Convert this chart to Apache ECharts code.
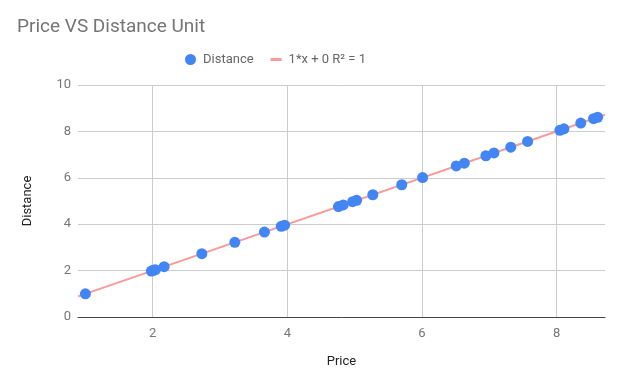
<!DOCTYPE html>
<html>
<head>
<meta charset="utf-8">
<script src="https://cdn.jsdelivr.net/npm/echarts@6/dist/echarts.min.js"></script>
<style>
html,body{margin:0;padding:0;background:#fff;}
#chart{width:624px;height:386px;}
</style>
</head>
<body>
<div id="chart"></div>
<script>
// Data
const priceValues = [1.0, 1.98, 2.01, 2.04, 2.17, 2.73, 3.22, 3.66, 3.91, 3.96, 4.76, 4.83, 4.97, 5.03, 5.27, 5.70, 6.01, 6.51, 6.63, 6.95, 7.07, 7.32, 7.57, 8.05, 8.11, 8.36, 8.55, 8.61];
const distanceValues = [1.0, 1.98, 2.01, 2.04, 2.17, 2.73, 3.22, 3.66, 3.91, 3.96, 4.76, 4.83, 4.97, 5.03, 5.27, 5.70, 6.01, 6.51, 6.63, 6.95, 7.07, 7.32, 7.57, 8.05, 8.11, 8.36, 8.55, 8.61];
const trendSlope = 1;
const trendIntercept = 0;
const xRange = [0.89, 8.72];
const yTicks = [0, 2, 4, 6, 8, 10];
const xTicks = [2, 4, 6, 8];
const seriesName = 'Distance';
const trendName = '1*x + 0 R\u00B2 = 1';

const scatterData = priceValues.map((p, i) => [p, distanceValues[i]]);
const trendData = xRange.map(x => [x, trendSlope * x + trendIntercept]);

const chart = echarts.init(document.getElementById('chart'), null, {renderer: 'canvas'});
chart.setOption({
  animation: false,
  backgroundColor: '#ffffff',
  textStyle: {fontFamily: 'Roboto'},
  title: {
    text: 'Price VS Distance Unit',
    left: 12,
    top: 13,
    textStyle: {fontFamily: 'Roboto', fontSize: 19, fontWeight: 'normal', color: '#757575'}
  },
  legend: {
    left: 180,
    top: 48,
    itemWidth: 11,
    itemHeight: 11,
    itemGap: 17,
    textStyle: {fontFamily: 'Roboto', fontSize: 13, color: '#666666', padding: [0, 0, 0, 2]},
    data: [
      {name: seriesName, icon: 'circle'},
      {name: trendName, icon: 'path://M0,0 L0,0 M0,4 L11,4 L11,7 L0,7 Z M11,11 L11,11'}
    ]
  },
  grid: {left: 78, right: 19, top: 85, bottom: 69, containLabel: false},
  xAxis: {
    type: 'value',
    min: xRange[0],
    max: xRange[1],
    splitNumber: 4,
    name: 'Price',
    nameLocation: 'middle',
    nameGap: 38,
    nameTextStyle: {fontFamily: 'Roboto', fontSize: 13, color: '#222222'},
    axisLine: {show: true, lineStyle: {color: '#444444', width: 1}},
    axisTick: {show: false},
    axisLabel: {
      show: true,
      margin: 10,
      fontFamily: 'Roboto',
      fontSize: 13,
      color: '#757575',
      showMinLabel: false,
      showMaxLabel: false,
      formatter: v => (xTicks.some(t => Math.abs(t - v) < 1e-6) ? String(Math.round(v)) : '')
    },
    splitLine: {show: true, showMinLine: false, showMaxLine: false, lineStyle: {color: '#cccccc', width: 1}}
  },
  yAxis: {
    type: 'value',
    min: yTicks[0],
    max: yTicks[yTicks.length - 1],
    interval: 2,
    name: 'Distance',
    nameLocation: 'middle',
    nameGap: 44,
    nameTextStyle: {fontFamily: 'Roboto', fontSize: 13, color: '#222222'},
    axisLine: {show: false},
    axisTick: {show: false},
    axisLabel: {margin: 7, fontFamily: 'Roboto', fontSize: 13, color: '#757575'},
    splitLine: {show: true, lineStyle: {color: '#cccccc', width: 1}}
  },
  series: [
    {
      name: trendName,
      type: 'line',
      data: trendData,
      showSymbol: false,
      symbol: 'none',
      lineStyle: {color: '#f79b9b', width: 2},
      itemStyle: {color: '#f79b9b'},
      z: 2
    },
    {
      name: seriesName,
      type: 'scatter',
      data: scatterData,
      symbol: 'circle',
      symbolSize: 11,
      itemStyle: {color: '#4285f4', opacity: 1},
      z: 3
    }
  ]
});
</script>
</body>
</html>
